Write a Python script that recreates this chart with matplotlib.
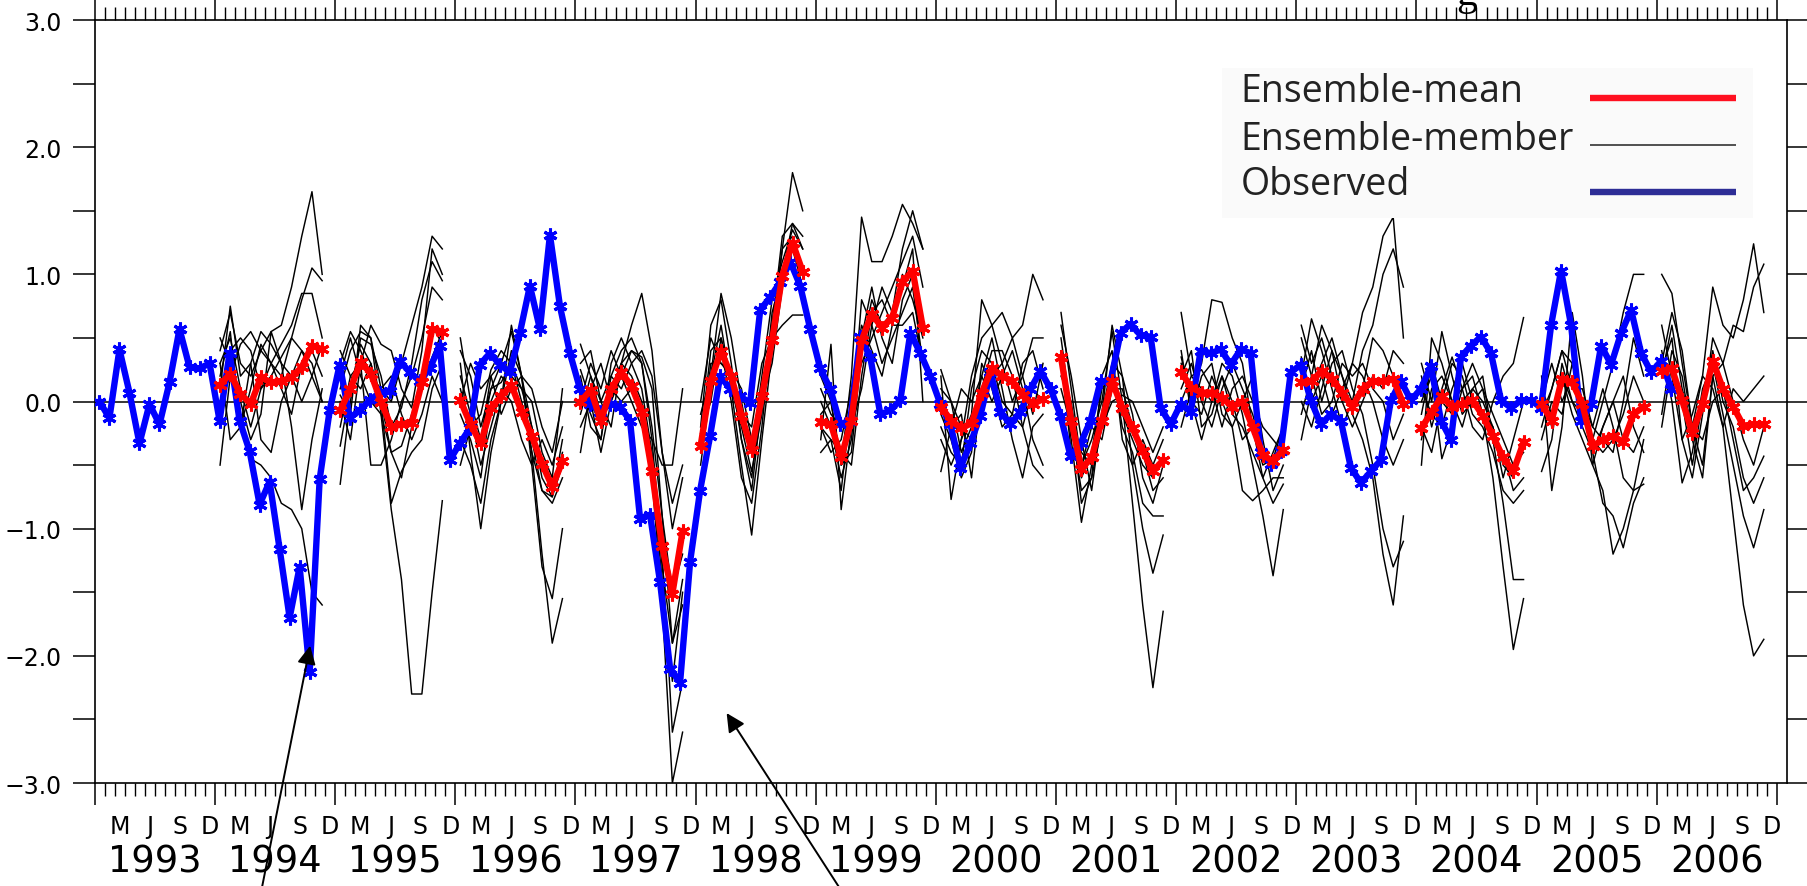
import numpy as np
import matplotlib
matplotlib.use("Agg")
import matplotlib.pyplot as plt
from matplotlib.patches import Rectangle

# =========================
# Data (anomalies, months counted from Jan 1993)
# =========================
observed = [
    0.00, -0.13, 0.41, 0.07, -0.33, -0.02, -0.18, 0.15, 0.57, 0.27, 0.26, 0.30,
    -0.15, 0.38, -0.15, -0.39, -0.81, -0.63, -1.16, -1.70, -1.30, -2.13, -0.61, -0.07,
    0.29, -0.13, -0.07, 0.01, 0.07, 0.08, 0.32, 0.23, 0.16, 0.26, 0.44, -0.46,
    -0.33, -0.21, 0.29, 0.38, 0.29, 0.23, 0.54, 0.91, 0.57, 1.31, 0.75, 0.38,
    0.10, -0.02, -0.08, -0.02, -0.04, -0.15, -0.92, -0.89, -1.42, -2.10, -2.21, -1.26,
    -0.70, -0.27, 0.20, 0.10, 0.04, -0.01, 0.72, 0.82, 0.94, 1.10, 0.91, 0.57,
    0.26, 0.10, -0.18, -0.15, 0.51, 0.35, -0.10, -0.07, 0.01, 0.54, 0.38, 0.20,
    -0.02, -0.18, -0.52, -0.33, -0.11, 0.23, -0.08, -0.18, -0.08, 0.10, 0.24, 0.10,
    -0.11, -0.43, -0.33, -0.15, 0.16, 0.16, 0.54, 0.61, 0.52, 0.51, -0.05, -0.18,
    -0.02, -0.08, 0.40, 0.38, 0.41, 0.29, 0.41, 0.38, -0.40, -0.49, -0.39, 0.23,
    0.29, 0.01, -0.18, -0.10, -0.15, -0.52, -0.64, -0.55, -0.46, 0.01, 0.16, 0.01,
    0.10, 0.28, -0.15, -0.30, 0.35, 0.44, 0.51, 0.38, 0.01, -0.05, 0.01, 0.01,
    -0.05, 0.60, 1.03, 0.60, -0.15, -0.02, 0.44, 0.29, 0.54, 0.72, 0.38, 0.23,
    0.32, 0.10,
]

forecast_years = list(range(1994, 2007))

mean_1994 = [0.13, 0.22, 0.06, -0.02, 0.19, 0.15, 0.16, 0.19, 0.27, 0.44, 0.41]
mean_1995 = [-0.07, 0.10, 0.31, 0.22, 0.00, -0.20, -0.18, -0.17, 0.15, 0.57, 0.55]
mean_1996 = [0.01, -0.18, -0.33, -0.05, 0.04, 0.13, -0.08, -0.27, -0.49, -0.67, -0.47]
mean_1997 = [0.00, 0.09, -0.15, 0.10, 0.23, 0.12, -0.08, -0.55, -1.14, -1.51, -1.02]
mean_1998 = [-0.35, 0.16, 0.40, 0.20, -0.11, -0.38, 0.04, 0.48, 0.99, 1.25, 1.02]
mean_1999 = [-0.16, -0.18, -0.44, -0.15, 0.48, 0.69, 0.58, 0.66, 0.94, 1.03, 0.58]
mean_2000 = [-0.04, -0.15, -0.21, -0.17, 0.07, 0.26, 0.20, 0.16, 0.05, -0.02, 0.02]
mean_2001 = [0.35, -0.15, -0.53, -0.44, -0.15, 0.16, -0.05, -0.21, -0.39, -0.55, -0.46]
mean_2002 = [0.23, 0.11, 0.07, 0.07, 0.03, -0.04, 0.00, -0.20, -0.42, -0.47, -0.38]
mean_2003 = [0.15, 0.16, 0.24, 0.18, 0.07, -0.04, 0.10, 0.16, 0.16, 0.18, -0.02]
mean_2004 = [-0.21, -0.08, 0.04, -0.04, -0.02, 0.01, -0.11, -0.27, -0.44, -0.55, -0.32]
mean_2005 = [-0.02, -0.15, 0.18, 0.15, -0.02, -0.35, -0.30, -0.27, -0.32, -0.10, -0.04]
mean_2006 = [0.24, 0.26, 0.01, -0.25, -0.02, 0.32, 0.10, -0.04, -0.19, -0.18, -0.18]

members_1994 = [
    [0.40, 0.70, 0.30, 0.20, 0.40, 0.55, 0.60, 0.90, 1.30, 1.65, 1.00],
    [0.30, 0.50, 0.10, -0.20, 0.10, 0.20, 0.35, 0.50, 0.80, 1.05, 0.95],
    [0.00, 0.20, 0.45, 0.55, 0.40, 0.30, 0.45, 0.60, 0.85, 0.85, 0.50],
    [0.50, 0.30, 0.00, -0.30, -0.10, 0.55, 0.30, -0.20, -0.85, -0.30, 0.10],
    [-0.50, 0.20, -0.10, -0.45, -0.50, -0.60, -0.80, -0.85, -1.00, -1.50, -1.60],
    [0.20, 0.55, -0.20, 0.10, 0.45, 0.30, 0.10, -0.10, 0.30, 0.40, 0.20],
    [0.10, 0.75, 0.20, 0.30, -0.30, -0.40, 0.00, 0.20, 0.40, 0.20, 0.00],
    [-0.10, 0.40, 0.50, 0.40, 0.10, 0.30, 0.20, 0.50, 0.40, 0.30, 0.00],
    [0.30, -0.30, -0.20, 0.30, 0.55, 0.45, 0.30, 0.20, 0.00, 0.20, 0.45],
]
members_1995 = [
    [0.30, 0.55, 0.40, 0.20, 0.10, 0.00, 0.30, 0.60, 0.90, 1.30, 1.20],
    [-0.65, 0.00, 0.50, 0.45, 0.20, -0.20, -0.05, 0.30, 0.80, 1.10, 0.95],
    [0.10, 0.40, 0.55, 0.50, -0.10, -0.85, -1.40, -2.30, -2.30, -1.50, -0.78],
    [0.00, -0.30, 0.30, 0.60, 0.45, 0.40, 0.10, -0.05, 0.40, 1.20, 1.00],
    [-0.20, 0.20, 0.30, -0.50, -0.50, -0.30, 0.00, 0.20, 0.50, 0.90, 0.80],
    [0.40, 0.20, 0.10, 0.30, 0.00, -0.40, -0.60, -0.20, 0.20, 0.60, 0.45],
    [0.20, 0.50, 0.20, 0.00, -0.10, -0.40, -0.35, -0.10, 0.10, 0.35, 0.55],
    [-0.35, 0.10, 0.45, 0.30, 0.00, -0.80, -0.55, -0.40, -0.30, 0.10, 0.30],
    [0.05, -0.10, 0.60, 0.50, 0.10, 0.20, -0.10, -0.30, -0.10, 0.20, 0.00],
]
members_1996 = [
    [0.50, 0.00, -0.30, 0.20, 0.30, 0.55, 0.20, -0.40, -1.20, -1.90, -1.55],
    [0.30, -0.40, -1.00, -0.40, 0.00, 0.40, 0.20, -0.50, -1.30, -1.55, -1.00],
    [-0.10, -0.30, -0.60, 0.00, 0.20, 0.10, -0.10, -0.30, -0.70, -0.80, -0.60],
    [0.40, 0.20, -0.20, 0.10, 0.30, 0.20, 0.10, -0.20, -0.50, -0.70, -0.40],
    [-0.50, -0.20, -0.30, 0.10, 0.15, 0.30, 0.00, -0.40, -0.70, -0.75, -0.30],
    [0.20, -0.10, -0.50, -0.20, 0.10, 0.00, -0.30, -0.50, -0.30, -0.50, -0.20],
    [0.00, 0.30, 0.10, 0.20, -0.10, 0.10, 0.20, 0.10, -0.20, -0.40, 0.00],
    [-0.30, -0.50, -0.80, -0.30, 0.00, 0.60, 0.20, -0.20, -0.60, -0.75, -0.50],
    [0.10, -0.20, -0.10, 0.25, 0.40, 0.30, 0.10, 0.00, -0.40, -0.60, 0.10],
]
members_1997 = [
    [0.30, 0.40, 0.00, 0.20, 0.40, 0.50, 0.30, -0.30, -1.20, -2.60, -2.20],
    [-0.40, 0.10, 0.30, 0.00, 0.30, 0.20, 0.00, -0.60, -1.60, -3.00, -2.60],
    [0.20, -0.20, -0.30, 0.30, 0.50, 0.30, 0.10, -0.40, -1.30, -1.90, -1.40],
    [0.45, 0.20, -0.10, 0.10, 0.30, 0.60, 0.85, 0.40, -0.40, -1.00, -0.60],
    [-0.20, 0.00, -0.40, 0.00, 0.20, 0.40, 0.30, -0.20, -0.90, -1.50, -1.20],
    [0.00, 0.30, 0.10, 0.40, 0.20, 0.00, -0.20, -0.30, -0.50, -0.50, 0.10],
    [0.10, -0.10, -0.30, 0.20, 0.10, 0.30, 0.40, 0.20, -0.40, -0.80, -0.50],
    [-0.10, 0.20, 0.00, -0.20, 0.30, 0.40, 0.35, 0.10, -0.90, -1.90, -1.60],
    [0.25, 0.00, -0.20, 0.10, 0.00, 0.10, -0.10, -0.60, -1.40, -2.20, -1.50],
]
members_1998 = [
    [-0.20, 0.60, 0.80, 0.30, -0.30, -0.70, 0.00, 0.60, 1.20, 1.80, 1.50],
    [-0.30, 0.40, 0.50, 0.10, -0.50, -1.05, -0.30, 0.40, 1.00, 1.40, 1.30],
    [-0.10, 0.20, 0.85, 0.50, 0.00, -0.40, 0.20, 0.80, 1.10, 1.35, 1.20],
    [-0.40, 0.30, 0.30, 0.20, -0.30, -0.60, 0.10, 0.50, 1.20, 1.30, 1.05],
    [-0.25, 0.00, 0.50, 0.20, -0.10, -0.20, 0.30, 0.50, 0.60, 0.68, 0.68],
    [-0.50, 0.10, 0.40, 0.00, -0.60, -0.80, -0.20, 0.60, 1.30, 1.40, 1.20],
    [0.00, 0.50, 0.30, 0.25, 0.10, -0.30, 0.00, 0.30, 0.90, 1.25, 1.00],
    [-0.30, 0.20, 0.60, 0.10, -0.20, -0.55, -0.10, 0.70, 1.00, 1.20, 0.90],
]
members_1999 = [
    [-0.10, 0.00, -0.50, 0.20, 1.45, 1.10, 1.10, 1.30, 1.55, 1.40, 1.20],
    [-0.30, 0.45, -0.85, -0.20, 0.80, 0.60, 0.90, 0.70, 1.20, 1.50, 1.20],
    [0.00, -0.20, -0.60, -0.30, 0.50, 0.90, 0.50, 0.30, 0.80, 1.00, 0.60],
    [-0.20, -0.40, -0.30, 0.10, 0.60, 0.40, 0.20, 0.60, 0.90, 1.20, 0.00],
    [0.20, 0.00, -0.50, -0.40, 0.40, 0.80, 0.60, 0.70, 1.00, 0.80, 0.50],
    [-0.40, -0.30, -0.70, 0.00, 0.30, 0.50, 0.70, 0.90, 1.10, 1.30, 0.90],
    [0.10, -0.10, -0.20, -0.20, 0.10, 0.60, 0.30, 0.50, 0.70, 0.90, 0.30],
    [-0.20, -0.30, -0.40, -0.50, 0.20, 0.70, 0.80, 0.60, 0.60, 0.70, 0.30],
]
members_2000 = [
    [-0.30, -0.50, -0.30, 0.20, 0.50, 0.60, 0.70, 0.50, 0.60, 1.00, 0.80],
    [0.20, -0.77, -0.30, -0.10, 0.80, 0.60, 0.30, 0.00, 0.20, 0.50, 0.50],
    [-0.55, -0.20, -0.10, -0.60, 0.10, 0.40, 0.40, 0.20, -0.20, -0.50, -0.60],
    [0.10, 0.00, -0.40, -0.20, 0.20, 0.00, 0.20, 0.40, 0.10, -0.30, -0.50],
    [-0.20, -0.40, -0.50, 0.10, 0.40, 0.30, 0.00, -0.10, -0.20, 0.10, 0.00],
    [0.25, 0.00, -0.20, -0.30, 0.00, 0.20, 0.30, 0.50, 0.20, -0.10, 0.30],
    [-0.10, -0.30, -0.60, -0.40, 0.30, 0.10, -0.20, -0.10, 0.30, 0.40, 0.10],
    [0.00, -0.20, 0.10, 0.00, 0.20, 0.50, 0.10, -0.30, -0.60, -0.20, -0.10],
]
members_2001 = [
    [0.70, 0.10, -0.50, -0.30, 0.00, 0.55, 0.00, -0.80, -1.60, -2.25, -1.65],
    [0.30, -0.30, -0.95, -0.50, -0.10, 0.60, 0.20, -0.50, -1.00, -1.35, -1.05],
    [0.40, -0.20, -0.70, -0.60, -0.20, 0.30, -0.20, -0.40, -0.80, -0.90, -0.90],
    [0.20, 0.00, -0.60, -0.40, 0.10, 0.20, -0.10, -0.30, -0.50, -0.60, -0.45],
    [0.35, -0.40, -0.50, -0.20, -0.30, 0.10, 0.10, -0.20, -0.40, -0.70, -0.60],
    [0.50, -0.10, -0.80, -0.60, 0.20, 0.40, -0.30, -0.50, -0.30, -0.50, -0.30],
    [0.10, -0.20, -0.40, -0.50, -0.20, 0.00, 0.05, 0.00, -0.20, -0.40, -0.20],
    [0.60, 0.20, -0.30, -0.70, -0.10, 0.30, 0.20, -0.10, -0.60, -0.80, -0.50],
]
members_2002 = [
    [0.70, 0.20, 0.10, 0.00, 0.30, 0.20, -0.10, -0.50, -0.90, -1.37, -0.85],
    [-0.20, 0.10, 0.30, 0.80, 0.78, 0.50, 0.30, -0.20, -0.60, -0.80, -0.65],
    [0.30, 0.00, -0.10, 0.20, 0.00, -0.20, -0.70, -0.78, -0.70, -0.60, -0.60],
    [0.10, 0.30, 0.00, -0.20, 0.10, 0.30, 0.10, -0.10, -0.40, -0.50, -0.30],
    [0.40, -0.10, 0.20, 0.30, -0.10, -0.20, 0.00, 0.20, -0.30, -0.70, -0.50],
    [0.20, 0.40, -0.20, -0.10, 0.20, 0.00, -0.30, -0.20, -0.50, -0.45, -0.20],
    [0.00, 0.20, 0.25, 0.10, -0.20, 0.10, 0.20, 0.00, -0.20, -0.30, -0.40],
    [0.35, 0.00, -0.30, 0.00, 0.20, -0.10, -0.20, -0.40, -0.60, -0.40, -0.20],
]
members_2003 = [
    [0.60, 0.30, 0.50, 0.20, 0.00, 0.30, 0.70, 0.90, 1.30, 1.45, 0.50],
    [0.20, 0.65, 0.40, 0.10, -0.20, 0.00, 0.40, 0.60, 1.00, 1.20, 0.90],
    [-0.30, 0.10, 0.30, 0.50, 0.20, -0.10, -0.30, -0.60, -1.20, -1.60, -0.90],
    [0.10, 0.40, 0.00, 0.30, 0.40, 0.10, -0.10, -0.50, -1.00, -1.30, -1.10],
    [0.35, 0.00, 0.20, -0.10, 0.10, 0.30, 0.20, 0.00, -0.30, -0.50, -0.30],
    [-0.10, 0.20, 0.60, 0.40, 0.00, -0.20, 0.00, 0.20, 0.10, 0.40, 0.30],
    [0.50, 0.20, -0.10, 0.00, 0.30, 0.20, 0.30, 0.10, 0.00, -0.30, -0.10],
    [0.00, -0.20, 0.10, 0.40, 0.20, 0.00, 0.10, 0.50, 0.40, 0.20, 0.10],
]
members_2004 = [
    [-0.50, 0.50, 0.30, 0.00, 0.10, 0.20, -0.10, -0.60, -1.30, -1.95, -1.55],
    [0.30, 0.00, 0.55, 0.20, -0.10, 0.00, 0.10, -0.30, -0.80, -1.40, -1.40],
    [-0.20, -0.40, 0.00, 0.30, 0.20, -0.10, -0.20, -0.40, -0.70, -0.80, -0.70],
    [0.00, 0.20, -0.45, -0.20, 0.10, 0.30, 0.10, -0.10, -0.30, -0.50, -0.40],
    [-0.30, 0.10, 0.20, 0.00, -0.20, 0.10, 0.00, -0.20, -0.50, -0.60, -0.30],
    [0.20, -0.20, 0.10, 0.35, 0.10, -0.20, -0.30, 0.00, 0.20, 0.30, 0.66],
    [-0.10, 0.30, 0.00, -0.10, 0.00, 0.10, 0.20, -0.30, -0.40, -0.70, -0.60],
    [0.10, -0.10, -0.20, 0.10, 0.30, 0.00, -0.10, -0.20, -0.60, -0.30, 0.00],
]
members_2005 = [
    [-0.55, -0.30, 0.30, 0.00, -0.20, -0.40, -0.80, -0.90, -1.15, -0.80, -0.60],
    [0.20, -0.70, -0.20, 0.70, 0.20, -0.50, -0.70, -1.20, -1.00, -0.70, -0.30],
    [0.00, 0.30, 0.00, 0.20, -0.10, -0.30, 0.00, 0.30, 0.70, 1.00, 1.00],
    [-0.20, 0.10, 0.40, 0.10, 0.10, -0.20, -0.30, -0.40, 0.00, 0.50, 0.20],
    [0.10, -0.10, 0.20, -0.10, -0.30, -0.50, -0.20, 0.00, -0.30, -0.40, -0.20],
    [-0.30, 0.00, -0.10, 0.30, 0.00, -0.20, 0.10, -0.20, -0.60, -0.70, -0.65],
    [0.10, -0.20, 0.20, 0.00, -0.10, -0.30, -0.40, -0.30, -0.10, 0.20, 0.00],
    [-0.10, 0.10, 0.40, 0.30, 0.00, -0.40, -0.20, 0.00, 0.20, -0.20, -0.40],
]
members_2006 = [
    [1.00, 0.85, 0.30, -0.20, 0.20, 0.90, 0.60, 0.50, 0.80, 1.24, 0.70],
    [0.25, 0.50, -0.30, -0.60, -0.10, 0.50, 0.30, 0.60, 0.55, 0.90, 1.08],
    [-0.10, 0.40, 0.20, -0.30, -0.60, 0.20, -0.20, -0.90, -1.60, -2.00, -1.87],
    [0.40, 0.00, -0.64, -0.40, 0.10, 0.30, -0.10, -0.50, -0.90, -1.15, -0.85],
    [0.20, 0.60, 0.10, -0.20, -0.30, 0.00, 0.10, -0.30, -0.70, -0.60, -0.43],
    [-0.20, 0.30, 0.00, -0.50, 0.00, 0.40, 0.00, -0.20, -0.60, -0.80, -0.60],
    [0.60, 0.20, -0.30, -0.10, 0.20, 0.10, -0.20, 0.10, 0.00, 0.10, 0.20],
    [0.30, 0.70, 0.40, -0.20, -0.50, 0.20, 0.30, 0.00, -0.30, -0.50, -0.20],
]

ens_means = [mean_1994, mean_1995, mean_1996, mean_1997, mean_1998, mean_1999, mean_2000,
             mean_2001, mean_2002, mean_2003, mean_2004, mean_2005, mean_2006]
ens_members = [members_1994, members_1995, members_1996, members_1997, members_1998,
               members_1999, members_2000, members_2001, members_2002, members_2003,
               members_2004, members_2005, members_2006]

axis_years = list(range(1993, 2007))
month_letters = ["M", "J", "S", "D"]
month_index = [2, 5, 8, 11]

legend_labels = ["Ensemble-mean", "Ensemble-member", "Observed"]
legend_colors = ["#ff1020", "#222222", "#2d2d96"]
legend_widths = [4.6, 1.1, 4.6]

# =========================
# Figure
# =========================
fig = plt.figure(figsize=(18.08, 8.87), dpi=100)
ax = fig.add_axes([0.0525, 0.1161, 0.9358, 0.8602])

ax.axhline(0, color="black", lw=1.1, zorder=1)

# forecast lead months (mid-month, Jan..Nov of each start year)
lead = np.arange(11) * 1.02 + 0.5

for yr, members in zip(forecast_years, ens_members):
    x = (yr - 1993) * 12 + lead
    for mem in members:
        ax.plot(x, mem, color="black", lw=1.05, zorder=2)

obs_x = np.arange(len(observed)) + 0.45
ax.plot(obs_x, observed, color="#0000ff", lw=4.6, marker=(6, 2, 0), ms=10,
        mew=2.2, zorder=3)

for yr, mean in zip(forecast_years, ens_means):
    x = (yr - 1993) * 12 + lead
    ax.plot(x, mean, color="#ff0000", lw=4.6, marker=(6, 2, 0), ms=10,
            mew=2.2, zorder=4)

# =========================
# Axes styling
# =========================
ax.set_xlim(0, 169)
ax.set_ylim(-3, 3)
for sp in ax.spines.values():
    sp.set_linewidth(1.2)

ax.set_xticks(np.arange(0, 169, 12))
ax.set_xticks(np.arange(0, 169, 1), minor=True)
ax.tick_params(axis="x", which="major", direction="out", length=16, width=1.1,
               top=True, bottom=True, labelbottom=False)
ax.tick_params(axis="x", which="minor", direction="out", length=9.5, width=1.0,
               top=True, bottom=True)

yt = np.arange(-3, 3.01, 0.5)
ax.set_yticks(yt)
ax.set_yticklabels([f"{v:.1f}".replace("-", "\u2212") if v == int(v) else "" for v in yt])
ax.tick_params(axis="y", direction="out", length=16, width=1.1, left=True,
               right=True, labelsize=17, pad=8)

xt = ax.get_xaxis_transform()
for k, yr in enumerate(axis_years):
    for letter, mi in zip(month_letters, month_index):
        ax.text(12 * k + mi + 0.5, -0.056, letter, transform=xt, ha="center",
                va="center", fontsize=17)
    ax.text(12 * k + 6, -0.102, str(yr), transform=xt, ha="center", va="center",
            fontsize=26.5)

# cut-off title letter peeking in at the top edge
fig.text(0.8114, 0.9944, "g", ha="center", va="baseline", fontsize=30,
         family="Liberation Serif")

# =========================
# Legend (pasted-in style box)
# =========================
ax.add_patch(Rectangle((0.666, 0.740), 0.314, 0.197, transform=ax.transAxes,
                       facecolor="#fafafa", edgecolor="none", zorder=5))
text_y = [0.907, 0.844, 0.785]
line_y = [0.898, 0.836, 0.775]
for lab, col, lw, ty, ly in zip(legend_labels, legend_colors, legend_widths, text_y, line_y):
    ax.text(0.677, ty, lab, transform=ax.transAxes, ha="left", va="center",
            fontsize=27, family="Open Sans", color="#222222", zorder=6)
    ax.plot([0.8836, 0.9699], [ly, ly], transform=ax.transAxes, color=col, lw=lw,
            solid_capstyle="butt", zorder=6)

# =========================
# Arrows from below
# =========================
arrow = dict(arrowstyle="-|>", color="black", lw=1.4, mutation_scale=28,
             shrinkA=0, shrinkB=0)
ax.annotate("", xy=(21.5, -1.92), xytext=(0.1431, -0.02), textcoords="figure fraction",
            arrowprops=arrow, annotation_clip=False)
ax.annotate("", xy=(63.1, -2.45), xytext=(0.470, -0.02), textcoords="figure fraction",
            arrowprops=arrow, annotation_clip=False)

fig.savefig("out.png", dpi=100)
